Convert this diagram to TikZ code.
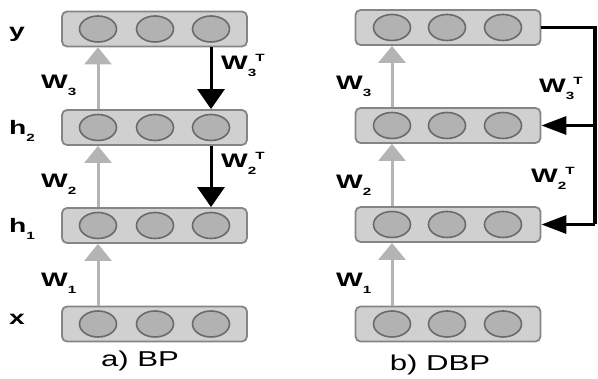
\documentclass[tikz,border=0pt]{standalone}
\usepackage{fontspec}
\setmainfont{Liberation Sans}
\newfontfamily\labfont[FakeStretch=1.45]{Liberation Sans}
\usetikzlibrary{arrows.meta,shapes.geometric}
\definecolor{boxfill}{HTML}{D0D0D0}
\definecolor{boxdraw}{HTML}{858585}
\definecolor{cellfill}{HTML}{B2B2B2}
\definecolor{celldraw}{HTML}{6A6A6A}
\definecolor{fwd}{HTML}{B4B4B4}
\newcommand{\subsc}[1]{\raisebox{-7pt}{\fontsize{10.5}{10.5}\selectfont #1}}
\newcommand{\supT}{\kern-1pt\raisebox{8.5pt}{\fontsize{10.5}{10.5}\selectfont T}}
\tikzset{
  layer/.style={draw=boxdraw, fill=boxfill, line width=1.8pt, rounded corners=5pt,
    minimum width=185pt, minimum height=35pt, inner sep=0pt},
  cell/.style={draw=celldraw, fill=cellfill, line width=1.6pt, ellipse,
    minimum width=37pt, minimum height=26pt, inner sep=0pt},
  lab/.style={inner sep=0pt, anchor=base west, font=\labfont\bfseries\fontsize{19.5}{19.5}\selectfont},
  captext/.style={inner sep=0pt, anchor=base, font=\labfont\fontsize{21.5}{22}\selectfont},
  fwdarrow/.style={draw=fwd, line width=3pt, -{Triangle[length=17pt,width=27pt]}},
  bwdarrow/.style={draw=black, line width=3pt, -{Triangle[length=20pt,width=27pt]}},
  sidearrow/.style={draw=black, line width=3.2pt, -{Triangle[length=25pt,width=18pt]}},
  rail/.style={draw=black, line width=3.2pt}
}
\begin{document}
\begin{tikzpicture}[x=1pt,y=-1pt]
\useasboundingbox (0,0) rectangle (598,379);
% ---------- left panel (BP) ----------
\foreach \n/\yy in {ay/29,ah2/127.5,ah1/225.5,ax/324}{
  \node[layer] (\n) at (154.5,\yy) {};
  \node[cell] (\n1) at (98,\yy) {};
  \node[cell] (\n2) at (155,\yy) {};
  \node[cell] (\n3) at (211,\yy) {};
}
\draw[fwdarrow] (ax1 |- ax.north) -- (ax1 |- ah1.south);
\draw[fwdarrow] (ah11 |- ah1.north) -- (ah11 |- ah2.south);
\draw[fwdarrow] (ah21 |- ah2.north) -- (ah21 |- ay.south);
\draw[bwdarrow] (ay3 |- ay.south) -- (ay3 |- ah2.north);
\draw[bwdarrow] (ah23 |- ah2.south) -- (ah23 |- ah1.north);
\node[lab] (ly) at (9,38) {y};
\node[lab] (lh2) at (9,135) {h\subsc{2}};
\node[lab] (lh1) at (9,233) {h\subsc{1}};
\node[lab] (lx) at (9,325) {x};
\node[lab] (lw3) at (41,89) {W\subsc{3}};
\node[lab] (lw2) at (41,188) {W\subsc{2}};
\node[lab] (lw1) at (41,287) {W\subsc{1}};
\node[lab] (lw3t) at (221,70) {W\subsc{3}\supT};
\node[lab] (lw2t) at (221,168) {W\subsc{2}\supT};
\node[captext] (capa) at (140,367) {a) BP};
% ---------- right panel (DBP) ----------
\foreach \n/\yy in {by/27.5,bh2/125.5,bh1/224.5,bx/324}{
  \node[layer] (\n) at (448,\yy) {};
  \node[cell] (\n1) at (392,\yy) {};
  \node[cell] (\n2) at (447,\yy) {};
  \node[cell] (\n3) at (503,\yy) {};
}
\draw[fwdarrow] (bx1 |- bx.north) -- (bx1 |- bh1.south);
\draw[fwdarrow] (bh11 |- bh1.north) -- (bh11 |- bh2.south);
\draw[fwdarrow] (bh21 |- bh2.north) -- (bh21 |- by.south);
\coordinate (railx) at (595,0);
\draw[rail] (by.east) -- (by.east -| railx) -- (bh1.east -| railx);
\draw[sidearrow] (bh1.east -| railx) -- (bh1.east);
\draw[sidearrow] (bh2.east -| railx) -- (bh2.east);
\node[lab] (rw3) at (336,90) {W\subsc{3}};
\node[lab] (rw2) at (336,189) {W\subsc{2}};
\node[lab] (rw1) at (336,287) {W\subsc{1}};
\node[lab] (rw3t) at (539,93) {W\subsc{3}\supT};
\node[lab] (rw2t) at (531,183) {W\subsc{2}\supT};
\node[captext] (capb) at (440,371) {b) DBP};
\end{tikzpicture}
\end{document}
